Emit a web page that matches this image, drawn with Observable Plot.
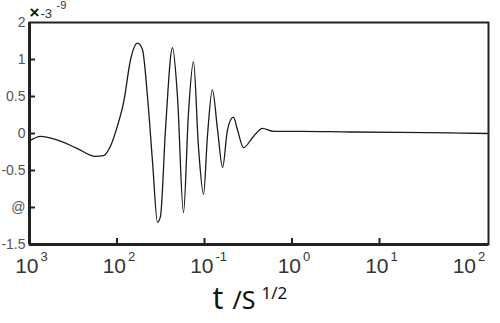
<!DOCTYPE html>
<html><head><meta charset="utf-8">
<script src="https://cdn.jsdelivr.net/npm/d3@7"></script>
<script src="https://cdn.jsdelivr.net/npm/@observablehq/plot@0.6"></script>
<style>html,body{margin:0;padding:0;background:#fff} svg{display:block}</style>
</head><body><div id="chart"></div>
<script>
// time values (t / s^1/2)
const tValues = [0.00100, 0.00134, 0.00198, 0.00336, 0.00568, 0.00702, 0.00843, 0.0101, 0.0119, 0.0143,
  0.0171, 0.0195, 0.0223, 0.0255, 0.0290, 0.0314, 0.0358, 0.0431, 0.0491, 0.0575,
  0.0656, 0.0748, 0.0853, 0.0975, 0.108, 0.123, 0.141, 0.161, 0.183, 0.214,
  0.238, 0.279, 0.363, 0.460, 0.615, 1.25, 4.67, 17.4, 64.7, 176];
// signal (×10^-9)
const signal = [-0.10, -0.04, -0.08, -0.19, -0.31, -0.30, -0.17, 0.10, 0.42, 1.00,
  1.22, 1.14, 0.50, -0.39, -1.20, -1.12, 0.05, 1.16, 0.50, -1.07,
  0.28, 0.97, -0.18, -0.82, -0.04, 0.59, 0.05, -0.46, 0.05, 0.22,
  0.05, -0.19, -0.04, 0.07, 0.03, 0.03, 0.02, 0.015, 0.008, 0.0];

const xDomain = [0.001, 176];
const yDomain = [-1.5, 1.5];
const xTickValues = [0.001, 0.01, 0.1, 1, 10, 100];
const xTickBase = ["10", "10", "10", "10", "10", "10"];
const xTickExp = ["3", "2", "-1", "0", "1", "2"];
const xTickMarks = [0.01, 0.1, 1, 10];
const yLabelValues = [1.5, 1, 0.5, 0, -0.5, -1, -1.5];
const yLabelText = ["2", "1", "0.5", "0", "-0.5", "@", "-1.5"];
const yTickMarks = [1, 0.5, 0, -0.5, -1];
const scaleLabel = ["×", "-3", "-9"];
const titleParts = ["t", "/S", "1/2"];

const series = tValues.map((t, i) => ({t, v: signal[i]}));
const xLabels = xTickValues.map((t, i) => ({t, base: xTickBase[i], exp: xTickExp[i]}));
const yLabels = yLabelValues.map((v, i) => ({v, s: yLabelText[i]}));

const ink = "#222";
const chart = Plot.plot({
  width: 500, height: 323,
  marginLeft: 29, marginRight: 12, marginTop: 22, marginBottom: 79,
  x: {type: "log", domain: xDomain, axis: null},
  y: {domain: yDomain, axis: null},
  style: {fontFamily: "'Liberation Sans', Arial, sans-serif", background: "#fff"},
  marks: [
    Plot.line(series, {x: "t", y: "v", stroke: "#1a1a1a", strokeWidth: 1.3, curve: "monotone-x"}),
    Plot.tickY(yTickMarks, {y: d => d, insetRight: 453, stroke: ink, strokeWidth: 2}),
    Plot.tickX(xTickMarks, {x: d => d, insetTop: 216, stroke: ink, strokeWidth: 2}),
    Plot.frame({stroke: ink, strokeWidth: 2}),
    Plot.ruleX([xDomain[0]], {stroke: ink, strokeWidth: 3}),
    Plot.ruleY([yDomain[0]], {stroke: ink, strokeWidth: 3}),
    Plot.text(yLabels, {y: "v", text: "s", frameAnchor: "left", textAnchor: "end", dx: -4, fontSize: 14, fill: "#555"}),
    Plot.text(xLabels, {x: "t", text: "base", frameAnchor: "bottom", lineAnchor: "bottom", textAnchor: "end", dx: 9, dy: 28, fontSize: 21, fill: "#333"}),
    Plot.text(xLabels, {x: "t", text: "exp", frameAnchor: "bottom", lineAnchor: "bottom", textAnchor: "start", dx: 11, dy: 16, fontSize: 13, fill: "#333"}),
    Plot.text([scaleLabel[0]], {text: d => d, frameAnchor: "top-left", lineAnchor: "bottom", textAnchor: "start", dx: 0, dy: -5, fontSize: 17, fontWeight: "bold", fill: "#111"}),
    Plot.text([scaleLabel[1]], {text: d => d, frameAnchor: "top-left", lineAnchor: "bottom", textAnchor: "start", dx: 11, dy: -5, fontSize: 13, fill: "#333"}),
    Plot.text([scaleLabel[2]], {text: d => d, frameAnchor: "top-left", lineAnchor: "bottom", textAnchor: "start", dx: 27, dy: -14, fontSize: 11, fill: "#333"}),
    Plot.text([titleParts[0]], {text: d => d, frameAnchor: "bottom-left", lineAnchor: "bottom", textAnchor: "start", dx: 183, dy: 64, fontSize: 30, fill: "#111", fontFamily: "'Noto Sans', sans-serif"}),
    Plot.text([titleParts[1]], {text: d => d, frameAnchor: "bottom-left", lineAnchor: "bottom", textAnchor: "start", dx: 203, dy: 64, fontSize: 25, fill: "#111", fontFamily: "'Noto Sans', sans-serif"}),
    Plot.text([titleParts[2]], {text: d => d, frameAnchor: "bottom-left", lineAnchor: "bottom", textAnchor: "start", dx: 232, dy: 54, fontSize: 17, fill: "#111", fontFamily: "'Noto Sans', sans-serif"})
  ]
});
document.getElementById("chart").append(chart);
</script>
</body></html>
